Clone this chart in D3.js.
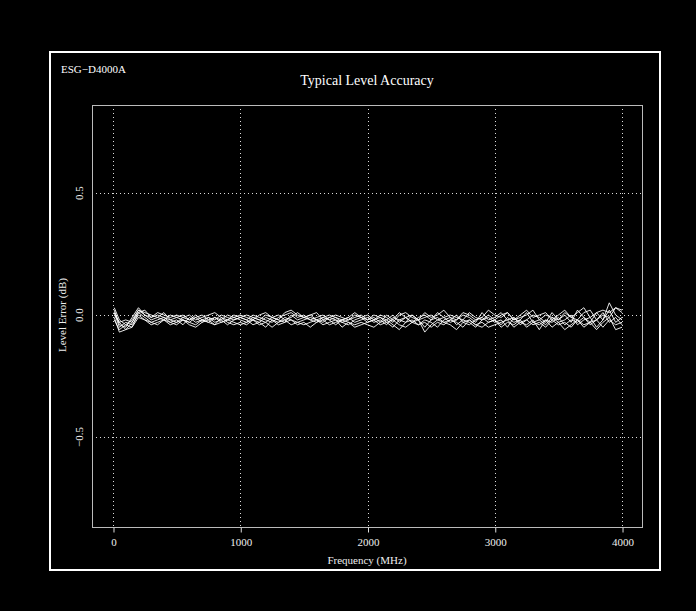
<!DOCTYPE html>
<html><head><meta charset="utf-8">
<script src="https://cdn.jsdelivr.net/npm/d3@7"></script>
<style>html,body{margin:0;padding:0;background:#000;}svg{display:block;}</style>
</head><body>
<script>
const freqs = [10,50,100,150,200,250,300,350,400,450,500,550,600,650,700,750,800,850,900,950,
1000,1050,1100,1150,1200,1250,1300,1350,1400,1450,1500,1550,1600,1650,1700,1750,1800,1850,1900,1950,
2000,2050,2100,2150,2200,2250,2300,2350,2400,2450,2500,2550,2600,2650,2700,2750,2800,2850,2900,2950,
3000,3050,3100,3150,3200,3250,3300,3350,3400,3450,3500,3550,3600,3650,3700,3750,3800,3850,3900,3950,4000];

const run1 = [0.02,-0.04,-0.05,-0.01,0.03,0.00,-0.02,-0.01,0.01,-0.02,
-0.03,-0.01,-0.02,0.00,-0.02,-0.03,-0.01,-0.02,0.00,-0.01,
-0.02,-0.03,-0.01,-0.02,-0.03,-0.01,0.00,-0.02,-0.01,0.01,
-0.01,-0.02,-0.03,-0.01,-0.02,-0.04,-0.02,-0.01,-0.03,-0.02,
-0.01,-0.03,-0.02,-0.04,-0.01,-0.02,-0.03,0.00,-0.02,-0.05,
-0.02,-0.01,-0.03,-0.02,0.00,-0.03,-0.04,-0.02,-0.01,-0.03,
-0.02,-0.04,-0.01,-0.03,-0.02,0.01,-0.03,-0.02,-0.04,-0.01,
-0.03,-0.02,0.00,-0.04,-0.02,-0.01,-0.05,-0.02,0.02,-0.03,
-0.01];
const run2 = [-0.02,-0.06,-0.04,-0.05,0.01,-0.01,-0.03,-0.02,-0.01,-0.03,
-0.02,-0.04,-0.01,-0.03,-0.02,-0.01,-0.03,-0.02,-0.04,-0.02,
-0.01,-0.02,-0.04,-0.03,-0.01,-0.02,-0.03,-0.01,-0.02,-0.03,
-0.02,-0.01,-0.02,-0.03,-0.01,-0.02,-0.03,-0.04,-0.02,-0.01,
-0.03,-0.02,-0.01,-0.03,-0.05,-0.02,-0.01,-0.03,-0.04,-0.02,
-0.03,-0.05,-0.02,-0.01,-0.04,-0.02,-0.03,-0.05,-0.02,-0.01,
-0.03,-0.02,-0.05,-0.01,-0.03,-0.04,-0.02,-0.06,-0.02,-0.03,
-0.01,-0.04,-0.02,-0.03,-0.01,-0.04,-0.02,0.01,-0.03,-0.01,
-0.04];
const run3 = [0.00,-0.03,-0.06,-0.03,0.02,0.01,0.00,-0.01,-0.02,0.00,
-0.01,-0.02,-0.03,-0.01,0.00,-0.02,-0.01,-0.03,-0.02,0.00,
-0.01,-0.02,0.00,-0.01,-0.02,-0.03,-0.01,0.00,0.01,-0.01,
0.00,-0.02,-0.01,0.00,-0.02,-0.01,-0.03,-0.02,-0.01,0.00,
-0.02,-0.01,-0.03,0.00,-0.02,0.01,-0.01,-0.03,-0.01,0.00,
-0.02,0.01,-0.01,-0.03,-0.02,0.00,-0.01,-0.03,0.01,-0.02,
-0.01,0.01,-0.02,-0.01,-0.04,-0.02,0.00,-0.01,-0.03,0.01,
-0.02,0.00,-0.03,0.02,-0.01,-0.03,0.01,-0.02,0.05,0.00,
-0.02];
const run4 = [0.01,-0.05,-0.03,-0.04,0.00,-0.02,-0.04,-0.03,-0.02,-0.04,
-0.03,-0.02,-0.04,-0.05,-0.03,-0.02,-0.04,-0.03,-0.02,-0.03,
-0.04,-0.03,-0.02,-0.04,-0.03,-0.05,-0.03,-0.02,-0.04,-0.03,
-0.04,-0.03,-0.02,-0.04,-0.03,-0.02,-0.05,-0.03,-0.04,-0.03,
-0.04,-0.05,-0.03,-0.02,-0.04,-0.06,-0.03,-0.02,-0.04,-0.03,
-0.05,-0.03,-0.04,-0.02,-0.03,-0.05,-0.02,-0.04,-0.03,-0.05,
-0.04,-0.03,-0.02,-0.05,-0.03,-0.02,-0.04,-0.03,-0.05,-0.02,
-0.04,-0.03,-0.05,-0.02,-0.04,-0.03,-0.02,-0.05,-0.02,-0.04,
-0.03];
const run5 = [0.03,-0.02,-0.04,-0.02,0.02,0.00,-0.01,0.01,0.00,-0.01,
0.00,-0.01,0.00,-0.02,-0.01,0.00,0.01,-0.01,-0.02,-0.01,
0.00,-0.01,-0.02,0.00,0.01,-0.01,-0.02,0.01,0.02,0.00,
-0.01,0.00,-0.02,-0.01,0.00,-0.01,-0.02,-0.01,0.01,-0.01,
0.00,-0.02,0.00,-0.01,-0.03,0.00,0.01,-0.01,-0.02,0.01,
-0.01,0.00,0.02,-0.01,-0.02,0.01,0.00,-0.02,-0.01,0.02,
0.00,-0.01,0.01,-0.02,0.00,0.02,-0.01,0.00,0.01,-0.02,
0.00,0.02,-0.01,0.01,0.03,-0.01,0.01,0.02,0.01,0.03,
0.01];
const run6 = [-0.01,-0.07,-0.06,-0.05,-0.01,-0.02,-0.03,-0.04,-0.02,-0.03,
-0.04,-0.02,-0.03,-0.04,-0.02,-0.03,-0.04,-0.01,-0.03,-0.04,
-0.03,-0.04,-0.02,-0.03,-0.05,-0.02,-0.04,-0.03,-0.02,-0.04,
-0.03,-0.05,-0.03,-0.02,-0.04,-0.03,-0.02,-0.03,-0.05,-0.04,
-0.03,-0.02,-0.04,-0.03,-0.02,-0.04,-0.05,-0.03,-0.02,-0.07,
-0.04,-0.02,-0.03,-0.04,-0.06,-0.03,-0.02,-0.04,-0.05,-0.03,
-0.02,-0.05,-0.03,-0.04,-0.02,-0.05,-0.03,-0.04,-0.02,-0.05,
-0.03,-0.06,-0.04,-0.02,-0.05,-0.03,-0.06,-0.03,-0.01,-0.06,
-0.05];
const run7 = [0.01,-0.03,-0.02,-0.03,0.01,0.02,-0.01,0.00,-0.01,-0.02,
-0.01,0.00,-0.02,-0.01,-0.03,-0.01,-0.02,0.00,-0.01,-0.02,
-0.01,0.00,-0.01,-0.02,0.00,-0.01,-0.02,-0.03,0.00,-0.02,
-0.01,0.00,0.01,-0.02,-0.01,0.00,-0.01,-0.02,0.00,-0.01,
-0.02,0.00,-0.01,-0.02,0.00,-0.03,-0.01,0.00,-0.02,-0.01,
0.00,-0.02,-0.01,0.00,-0.01,-0.02,0.01,-0.01,-0.02,0.00,
-0.02,0.00,0.01,-0.02,-0.01,0.00,0.02,-0.02,0.00,-0.01,
-0.02,0.01,-0.01,-0.02,0.01,0.02,-0.02,0.00,-0.01,0.03,
0.02];

const runs = [run1, run2, run3, run4, run5, run6, run7];
const xTicks = [0, 1000, 2000, 3000, 4000];
const yTicks = [-0.5, 0.0, 0.5];
const yTickLabels = ["\u22120.5", "0.0", "0.5"];
const titleText = "Typical Level Accuracy";
const cornerText = "ESG\u2212D4000A";
const xLabel = "Frequency (MHz)";
const yLabel = "Level Error (dB)";

const W = 696, H = 611;
const plot = {left: 92, right: 642, top: 105, bottom: 527};
const font = "'Liberation Serif', 'Times New Roman', serif";

const svg = d3.select("body").append("svg").attr("width", W).attr("height", H)
  .style("background", "#000");
svg.append("rect").attr("width", W).attr("height", H).attr("fill", "#000");

const x = d3.scaleLinear().domain([-165, 4157]).range([plot.left, plot.right]);
const y = d3.scaleLinear().domain([-0.869, 0.861]).range([plot.bottom, plot.top]);

// outer frame
svg.append("rect").attr("x", 50).attr("y", 52).attr("width", 610).attr("height", 518)
  .attr("fill", "none").attr("stroke", "#fff").attr("stroke-width", 2);

// grid
const g = svg.append("g");
g.selectAll("line.vg").data(xTicks).join("line").attr("class", "vg")
  .attr("x1", d => Math.round(x(d)) + 0.5).attr("x2", d => Math.round(x(d)) + 0.5)
  .attr("y1", plot.top).attr("y2", plot.bottom)
  .attr("stroke", "#ddd").attr("stroke-width", 1).attr("stroke-dasharray", "1,3");
g.selectAll("line.hg").data(yTicks).join("line").attr("class", "hg")
  .attr("y1", d => Math.round(y(d)) + 0.5).attr("y2", d => Math.round(y(d)) + 0.5)
  .attr("x1", plot.left).attr("x2", plot.right)
  .attr("stroke", "#ddd").attr("stroke-width", 1).attr("stroke-dasharray", "1,3");

// plot box
svg.append("rect").attr("x", plot.left + 0.5).attr("y", plot.top + 0.5)
  .attr("width", plot.right - plot.left).attr("height", plot.bottom - plot.top)
  .attr("fill", "none").attr("stroke", "#bbb").attr("stroke-width", 1);

// x axis
const xAxis = d3.axisBottom(x).tickValues(xTicks).tickSize(5).tickPadding(6).tickFormat(d3.format("d"));
const xg = svg.append("g").attr("transform", `translate(0.5,${plot.bottom + 0.5})`).call(xAxis);
xg.select(".domain").remove();
xg.selectAll(".tick line").attr("stroke", "#ddd");
xg.selectAll(".tick text").attr("fill", "#eee").style("font-family", font).style("font-size", "11px");

// y axis (rotated labels)
const yg = svg.append("g");
yg.selectAll("text").data(yTicks).join("text")
  .attr("transform", (d, i) => `translate(83,${y(d)}) rotate(-90)`)
  .attr("text-anchor", "middle")
  .attr("fill", "#eee").style("font-family", font).style("font-size", "11px")
  .text((d, i) => yTickLabels[i]);

// lines
const line = d3.line().x((d, i) => x(freqs[i])).y(d => y(d));
svg.append("g").selectAll("path").data(runs).join("path")
  .attr("d", d => line(d))
  .attr("fill", "none").attr("stroke", "#fff").attr("stroke-width", 0.9)
  .attr("stroke-linejoin", "miter");

// texts
svg.append("text").attr("x", 367).attr("y", 85).attr("text-anchor", "middle")
  .attr("fill", "#fff").style("font-family", font).style("font-size", "14px").text(titleText);
svg.append("text").attr("x", 61).attr("y", 73).attr("text-anchor", "start")
  .attr("fill", "#fff").style("font-family", font).style("font-size", "11px").text(cornerText);
svg.append("text").attr("x", 367).attr("y", 564).attr("text-anchor", "middle")
  .attr("fill", "#eee").style("font-family", font).style("font-size", "11px").text(xLabel);
svg.append("text").attr("transform", `translate(66,${y(0)}) rotate(-90)`).attr("text-anchor", "middle")
  .attr("fill", "#eee").style("font-family", font).style("font-size", "11px").text(yLabel);
</script>
</body></html>
